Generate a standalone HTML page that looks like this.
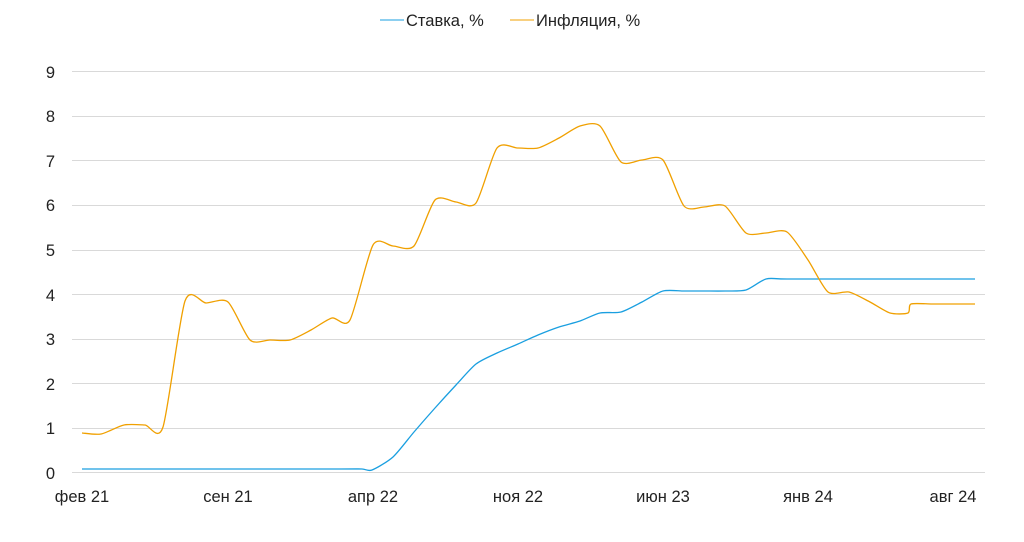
<!DOCTYPE html>
<html><head><meta charset="utf-8"><style>
body{margin:0;background:#fff;font-family:"Liberation Sans",sans-serif}
</style></head><body>
<svg id="s" width="1024" height="537" xmlns="http://www.w3.org/2000/svg" font-family="Liberation Sans, sans-serif" font-size="16.5" fill="#222">
<g stroke="#d9d9d9" stroke-width="1">
<line x1="72" x2="985" y1="71.5" y2="71.5"/><line x1="72" x2="985" y1="116.5" y2="116.5"/>
<line x1="72" x2="985" y1="160.5" y2="160.5"/><line x1="72" x2="985" y1="205.5" y2="205.5"/>
<line x1="72" x2="985" y1="250.5" y2="250.5"/><line x1="72" x2="985" y1="294.5" y2="294.5"/>
<line x1="72" x2="985" y1="339.5" y2="339.5"/><line x1="72" x2="985" y1="383.5" y2="383.5"/>
<line x1="72" x2="985" y1="428.5" y2="428.5"/><line x1="72" x2="985" y1="472.5" y2="472.5"/>
</g>
<g text-anchor="end">
<text x="55" y="78">9</text><text x="55" y="122">8</text><text x="55" y="167">7</text><text x="55" y="211">6</text><text x="55" y="256">5</text><text x="55" y="301">4</text><text x="55" y="345">3</text><text x="55" y="390">2</text><text x="55" y="434">1</text><text x="55" y="479">0</text>
</g>
<g text-anchor="middle">
<text x="82" y="502">фев 21</text><text x="228" y="502">сен 21</text><text x="373" y="502">апр 22</text><text x="518" y="502">ноя 22</text><text x="663" y="502">июн 23</text><text x="808" y="502">янв 24</text><text x="953" y="502">авг 24</text>
</g>
<line x1="380" x2="404" y1="20" y2="20" stroke="#1a9fe0"/>
<text x="406" y="26">Ставка, %</text>
<line x1="510" x2="534" y1="20" y2="20" stroke="#f0a000"/>
<text x="536" y="26">Инфляция, %</text>
<path id="b" fill="none" stroke="#1a9fe0" stroke-width="1.3"/>
<path id="o" fill="none" stroke="#f0a000" stroke-width="1.3"/>
</svg>
<script>
function sm(p){let d="M"+p[0][0]+","+p[0][1];for(let i=0;i<p.length-1;i++){const a=p[i-1]||p[i],b=p[i],c=p[i+1],e=p[i+2]||c;const t=8;d+=" C"+(b[0]+(c[0]-a[0])/t)+","+(b[1]+(c[1]-a[1])/t)+" "+(c[0]-(e[0]-b[0])/t)+","+(c[1]-(e[1]-b[1])/t)+" "+c[0]+","+c[1];}return d;}
const o=[[82,433],[101,434],[124,425],[145,425],[163,427],[185,301],[206,303],[228,302],[250,340],[270,340],[290,340],[311,330],[332,318],[350,320],[373,245],[393,246],[414,246],[435,200],[456,202],[476,203],[497,148],[518,148],[538,148],[559,138],[580,126],[600,126],[621,162],[642,160],[663,160],[684,206],[704,207],[725,206],[746,233],[766,233],[787,232],[808,260],[828,292],[849,292],[870,302],[890,313],[908,313],[911,304],[932,304],[953,304],[975,304]];
const b=[[82,469],[200,469],[340,469],[362,469],[372,470],[393,457],[414,432],[435,408],[456,385],[476,364],[497,353],[518,344],[538,335],[559,327],[580,321],[600,313],[621,312],[642,302],[663,291],[684,291],[704,291],[725,291],[746,290],[766,279],[787,279],[880,279],[975,279]];
document.getElementById("o").setAttribute("d",sm(o));
document.getElementById("b").setAttribute("d",sm(b));
</script>
</body></html>
